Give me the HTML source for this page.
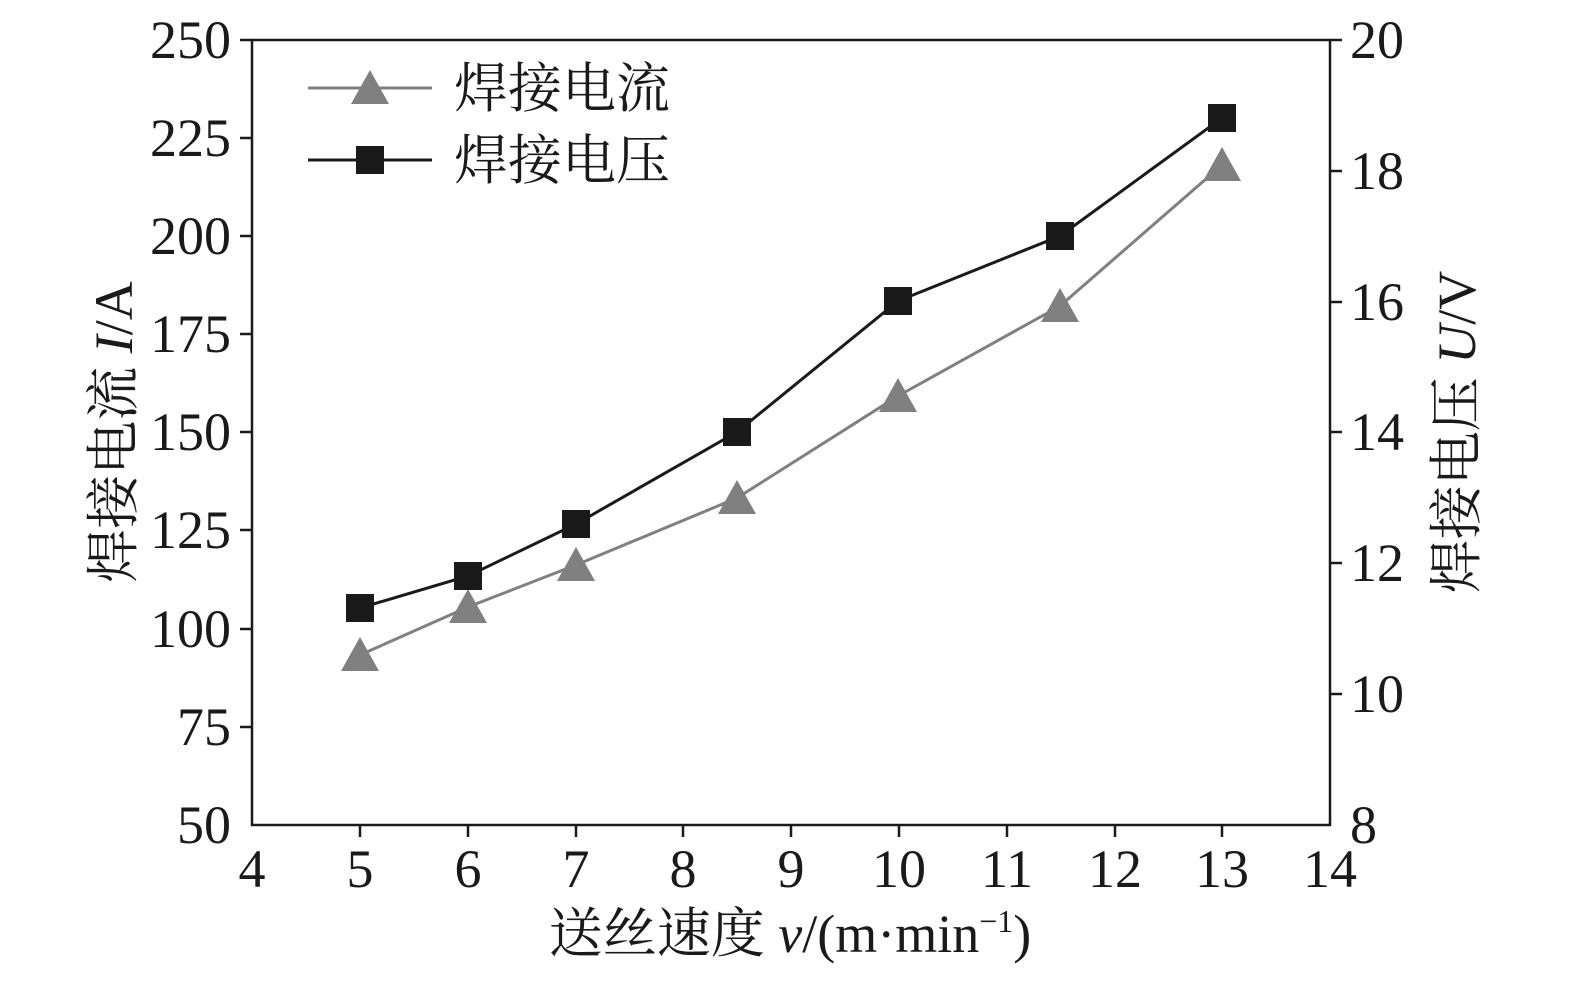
<!DOCTYPE html>
<html><head><meta charset="utf-8"><style>
html,body{margin:0;padding:0;background:#fff;}
svg text{font-family:"Liberation Serif","Noto Serif CJK SC",serif;fill:#1a1a1a;}
</style></head><body>
<svg width="1575" height="994" viewBox="0 0 1575 994" xmlns="http://www.w3.org/2000/svg">
<rect x="252" y="40" width="1078" height="785" fill="none" stroke="#1a1a1a" stroke-width="2.5"/>
<g stroke="#1a1a1a" stroke-width="2.5">
<line x1="240" y1="40" x2="252" y2="40"/><line x1="240" y1="138" x2="252" y2="138"/>
<line x1="240" y1="236" x2="252" y2="236"/><line x1="240" y1="334" x2="252" y2="334"/>
<line x1="240" y1="432" x2="252" y2="432"/><line x1="240" y1="530" x2="252" y2="530"/>
<line x1="240" y1="629" x2="252" y2="629"/><line x1="240" y1="727" x2="252" y2="727"/>
<line x1="1330" y1="40" x2="1342" y2="40"/><line x1="1330" y1="171" x2="1342" y2="171"/>
<line x1="1330" y1="302" x2="1342" y2="302"/><line x1="1330" y1="432" x2="1342" y2="432"/>
<line x1="1330" y1="563" x2="1342" y2="563"/><line x1="1330" y1="694" x2="1342" y2="694"/>
<line x1="360" y1="825" x2="360" y2="837"/><line x1="468" y1="825" x2="468" y2="837"/>
<line x1="576" y1="825" x2="576" y2="837"/><line x1="683" y1="825" x2="683" y2="837"/>
<line x1="791" y1="825" x2="791" y2="837"/><line x1="899" y1="825" x2="899" y2="837"/>
<line x1="1007" y1="825" x2="1007" y2="837"/><line x1="1115" y1="825" x2="1115" y2="837"/>
<line x1="1222" y1="825" x2="1222" y2="837"/>
</g>
<g font-size="54" text-anchor="end">
<text x="231" y="58">250</text><text x="231" y="156">225</text><text x="231" y="254">200</text>
<text x="231" y="352">175</text><text x="231" y="450">150</text><text x="231" y="548">125</text>
<text x="231" y="647">100</text><text x="231" y="745">75</text><text x="231" y="843">50</text>
</g>
<g font-size="54" text-anchor="start">
<text x="1350" y="58">20</text><text x="1350" y="189">18</text><text x="1350" y="320">16</text>
<text x="1350" y="450">14</text><text x="1350" y="581">12</text><text x="1350" y="712">10</text>
<text x="1350" y="843">8</text>
</g>
<g font-size="54" text-anchor="middle">
<text x="252" y="887">4</text><text x="360" y="887">5</text><text x="468" y="887">6</text>
<text x="576" y="887">7</text><text x="683" y="887">8</text><text x="791" y="887">9</text>
<text x="899" y="887">10</text><text x="1007" y="887">11</text><text x="1115" y="887">12</text>
<text x="1222" y="887">13</text><text x="1330" y="887">14</text>
</g>
<text x="790" y="952" font-size="54" text-anchor="middle">送丝速度 <tspan font-style="italic">v</tspan>/(m·min<tspan font-size="32" dy="-20">−1</tspan><tspan dy="20">)</tspan></text>
<text transform="translate(132,432) rotate(-90)" font-size="54" text-anchor="middle">焊接电流 <tspan font-style="italic">I</tspan>/A</text>
<text transform="translate(1475,432) rotate(-90)" font-size="54" text-anchor="middle">焊接电压 <tspan font-style="italic">U</tspan>/V</text>
<polyline fill="none" stroke="#808080" stroke-width="3" points="360,655 468,607 576,565 737,498 898,396 1060,306 1222,165"/>
<g fill="#808080">
<polygon points="360,637 341,671 379,671"/><polygon points="468,589 449,623 487,623"/>
<polygon points="576,547 557,581 595,581"/><polygon points="737,480 718,514 756,514"/>
<polygon points="898,378 879,412 917,412"/><polygon points="1060,288 1041,322 1079,322"/>
<polygon points="1222,147 1203,181 1241,181"/>
</g>
<polyline fill="none" stroke="#1a1a1a" stroke-width="3" points="360,608 468,576 576,524 737,432 898,301 1060,236 1222,118"/>
<g fill="#1a1a1a">
<rect x="346" y="594" width="28" height="28"/><rect x="454" y="562" width="28" height="28"/>
<rect x="562" y="510" width="28" height="28"/><rect x="723" y="418" width="28" height="28"/>
<rect x="884" y="287" width="28" height="28"/><rect x="1046" y="222" width="28" height="28"/>
<rect x="1208" y="104" width="28" height="28"/>
</g>
<line x1="308" y1="88" x2="432" y2="88" stroke="#808080" stroke-width="3"/>
<polygon points="370,70 351,104 389,104" fill="#808080"/>
<text x="454" y="107" font-size="54">焊接电流</text>
<line x1="308" y1="160" x2="432" y2="160" stroke="#1a1a1a" stroke-width="3"/>
<rect x="356" y="146" width="28" height="28" fill="#1a1a1a"/>
<text x="454" y="179" font-size="54">焊接电压</text>
</svg>
</body></html>
